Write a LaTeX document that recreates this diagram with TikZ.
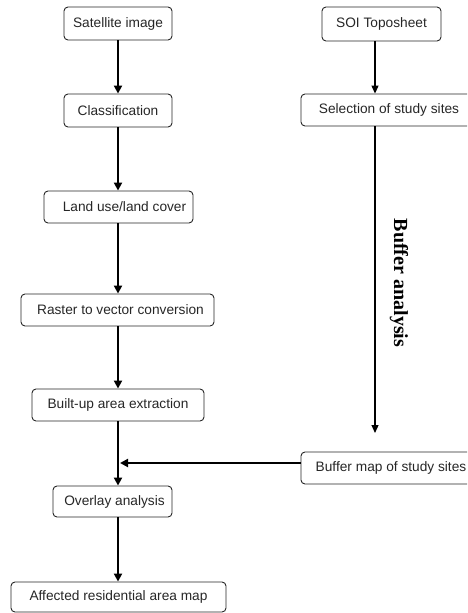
\documentclass[tikz,border=0pt]{standalone}
\usepackage{fontspec}
\setmainfont{Liberation Sans}
\newfontfamily\bufserif{Liberation Serif}
\usetikzlibrary{arrows.meta}
\tikzset{
  procbox/.style={draw=black!85, line width=0.9pt, rounded corners=4pt, inner sep=0pt,
    font=\fontsize{13.7}{16}\selectfont, text=black!85},
  thickarrow/.style={line width=2.8pt, -{Triangle[length=8pt,width=8pt]}},
  thinarrow/.style={line width=1.2pt, -{Triangle[length=8pt,width=7pt]}},
}
\begin{document}
\begin{tikzpicture}[x=1pt,y=-1pt]
\clip (0,0) rectangle (467,613);
\useasboundingbox (0,0) rectangle (467,613);
% left column
\node[procbox, minimum width=108pt, minimum height=33pt] (sat) at (118,23.5) {Satellite image};
\node[procbox, minimum width=108pt, minimum height=33pt] (cls) at (118,110.5) {Classification};
\node[procbox, minimum width=149pt, minimum height=32pt] (lulc) at (118.5,207) {\hspace{12pt}Land use/land cover};
\node[procbox, minimum width=193pt, minimum height=32pt] (r2v) at (117.5,310) {\hspace{6pt}Raster to vector conversion};
\node[procbox, minimum width=172pt, minimum height=32pt] (bua) at (118,405) {Built-up area extraction};
\node[procbox, minimum width=119pt, minimum height=31pt] (ovl) at (112.5,501.5) {\hspace{4pt}Overlay analysis};
\node[procbox, minimum width=215pt, minimum height=30pt] (arm) at (118.5,597) {Affected residential area map\hspace{6pt}};
% right column
\node[procbox, minimum width=119pt, minimum height=34pt] (soi) at (381.5,24) {SOI Toposheet};
\node[procbox, minimum width=176pt, minimum height=32pt] (sel) at (389,110) {Selection of study sites\hspace{15pt}};
\node[procbox, minimum width=180pt, minimum height=32pt] (buf) at (391,468) {Buffer map of study sites\hspace{12pt}};
% helper coordinates
\coordinate (colL) at (118,0);
\coordinate (colR) at (375,0);
\coordinate (bufend) at (375,433);
\coordinate (joinrow) at (0,463);
\coordinate (joinpt) at (120,463);
% left arrows
\draw[thickarrow] (sat.south -| colL) -- (cls.north -| colL);
\draw[thickarrow] (cls.south -| colL) -- (lulc.north -| colL);
\draw[thickarrow] (lulc.south -| colL) -- (r2v.north -| colL);
\draw[thickarrow] (r2v.south -| colL) -- (bua.north -| colL);
\draw[thickarrow] (bua.south -| colL) -- (ovl.north -| colL);
\draw[thickarrow] (ovl.south -| colL) -- (arm.north -| colL);
% right arrows
\draw[thinarrow] (soi.south -| colR) -- (sel.north -| colR);
\draw[thinarrow] (sel.south -| colR) -- (bufend);
\draw[line width=2.4pt, -{Triangle[length=8pt,width=8pt]}] (buf.west |- joinrow) -- (joinpt);
% label
\node[rotate=-90, font=\bufserif\bfseries\fontsize{20}{22}\selectfont, inner sep=0pt] (lbl) at (399,283) {Buffer analysis};
\end{tikzpicture}
\end{document}
